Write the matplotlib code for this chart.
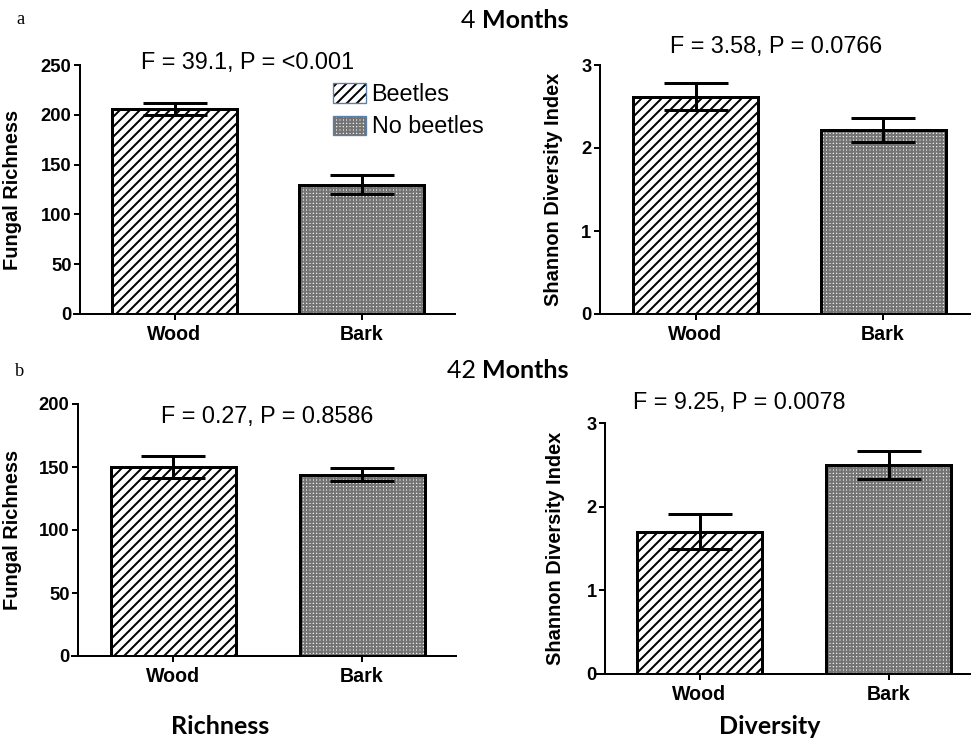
import matplotlib
matplotlib.use("Agg")
import matplotlib.pyplot as plt
from matplotlib.patches import Patch
from matplotlib.legend_handler import HandlerTuple

# ---- Data ----
groups = ["Wood", "Bark"]
hatches = ["////", "++++++"]
hatch_colors = ["black", "#747474"]
faces = ["white", "#ececec"]

rich_4 = [206, 130]
rich_4_err = [6, 10]
div_4 = [2.62, 2.22]
div_4_err = [0.16, 0.145]
rich_42 = [150, 144]
rich_42_err = [9, 5.5]
div_42 = [1.70, 2.50]
div_42_err = [0.21, 0.165]

stats = ["F = 39.1, P = <0.001", "F = 3.58, P = 0.0766",
         "F = 0.27, P = 0.8586", "F = 9.25, P = 0.0078"]

# ---- Style ----
W, H, DPI = 971, 741, 120
plt.rcParams["font.family"] = "Liberation Sans"
plt.rcParams["hatch.linewidth"] = 1.2
PX = 72.0 / DPI  # points per pixel

fig = plt.figure(figsize=(W / DPI, H / DPI), dpi=DPI)


def fx(x):
    return x / W


def fy(y):
    return 1 - y / H


def bar_panel(left, spine_x, right, top, bottom, c0, c1, vals, errs,
              ymax, yticks, ylabel, label_x):
    ax = fig.add_axes([fx(left), fy(bottom), fx(right - left), (bottom - top) / H])
    step = c1 - c0
    ax.set_xlim((left - c0) / step, (right - c0) / step)
    ax.set_ylim(0, ymax)
    for i in range(len(groups)):
        # hatch fill first, then a plain black outline on top
        ax.bar(i, vals[i], width=125 / step, color=faces[i], hatch=hatches[i],
               edgecolor=hatch_colors[i], linewidth=0, zorder=2)
        ax.bar(i, vals[i], width=125 / step, fill=False,
               edgecolor="black", linewidth=3 * PX, zorder=2.5)
    ax.errorbar(range(len(groups)), vals, yerr=errs, fmt="none", ecolor="black",
                elinewidth=3 * PX, capsize=32 * PX, capthick=3 * PX, zorder=3)
    for s in ["top", "right"]:
        ax.spines[s].set_visible(False)
    ax.spines["left"].set_position(("outward", -(spine_x - left) * PX))
    ax.spines["left"].set_linewidth(2 * PX)
    ax.spines["bottom"].set_linewidth(2 * PX)
    ax.set_xticks(range(len(groups)))
    ax.set_xticklabels(groups, fontweight="bold", fontsize=11.8)
    ax.set_yticks(yticks)
    ax.set_yticklabels([str(t) for t in yticks], fontweight="bold", fontsize=11)
    ax.tick_params(axis="x", length=6 * PX, width=2 * PX, pad=3)
    ax.tick_params(axis="y", length=6 * PX, width=2 * PX, pad=1.5)
    ax.set_ylabel(ylabel, fontweight="bold", fontsize=12)
    ax.yaxis.set_label_coords((label_x - left) / (right - left), 0.5)
    return ax


ax1 = bar_panel(74, 80, 455, 65, 314, 174.5, 361.5, rich_4, rich_4_err,
                250, [0, 50, 100, 150, 200, 250], "Fungal Richness", 22)
ax2 = bar_panel(595, 600, 971, 65, 314, 695.5, 883, div_4, div_4_err,
                3, [0, 1, 2, 3], "Shannon Diversity Index", 563)
ax3 = bar_panel(72, 78, 456, 404, 656, 173, 362, rich_42, rich_42_err,
                200, [0, 50, 100, 150, 200], "Fungal Richness", 22)
ax4 = bar_panel(597, 605, 971, 423, 674, 699.5, 888.5, div_42, div_42_err,
                3, [0, 1, 2, 3], "Shannon Diversity Index", 565)

# stats labels
for (x, y), s in zip([(248, 63), (776, 46), (267, 417), (739, 402)], stats):
    fig.text(fx(x), fy(y), s, ha="center", va="center", fontsize=14)

# legend in the first panel
handles = [(Patch(facecolor=faces[i], hatch=hatches[i], edgecolor=hatch_colors[i], linewidth=0),
            Patch(facecolor="none", edgecolor="#5b7fa8", linewidth=0.8)) for i in range(2)]
fig.legend(handles, ["Beetles", "No beetles"], handler_map={tuple: HandlerTuple(ndivide=1)},
           loc="upper left", bbox_to_anchor=(fx(333), fy(83)), frameon=False,
           fontsize=14, handlelength=1.4, handleheight=0.9, handletextpad=0.25,
           labelspacing=0.4, borderpad=0, borderaxespad=0)

# row titles
for y, num in [(21, "4"), (371, "42")]:
    fig.text(fx(482), fy(y), num + " ", ha="right", va="center", fontsize=15,
             family="Lato")
    fig.text(fx(482), fy(y), "Months", ha="left", va="center", fontsize=15,
             family="Lato", fontweight="bold")

# panel letters
fig.text(fx(20), fy(19), "a", ha="center", va="center", fontsize=11, family="Liberation Serif")
fig.text(fx(20), fy(372), "b", ha="center", va="center", fontsize=11, family="Liberation Serif")

# column captions
fig.text(fx(220), fy(727), "Richness", ha="center", va="center", fontsize=15,
         family="Lato", fontweight="bold")
fig.text(fx(770), fy(727), "Diversity", ha="center", va="center", fontsize=15,
         family="Lato", fontweight="bold")

fig.savefig("out.png", dpi=DPI)
